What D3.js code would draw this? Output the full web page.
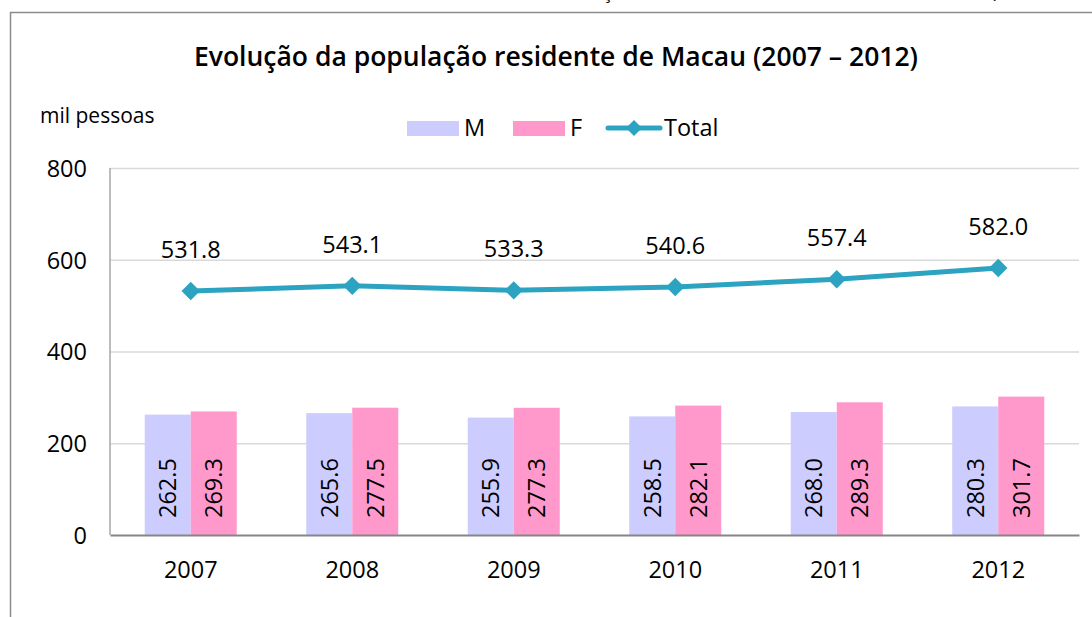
<!DOCTYPE html>
<html><head><meta charset="utf-8">
<script src="https://cdn.jsdelivr.net/npm/d3@7"></script>
<style>
html,body{margin:0;padding:0;background:#fff;}
svg{display:block;font-family:"Open Sans","Noto Sans",sans-serif;}
</style></head>
<body>
<svg id="c" width="1092" height="617"></svg>
<script>
const years = ["2007","2008","2009","2010","2011","2012"];
const male = [262.5, 265.6, 255.9, 258.5, 268.0, 280.3];
const female = [269.3, 277.5, 277.3, 282.1, 289.3, 301.7];
const total = [531.8, 543.1, 533.3, 540.6, 557.4, 582.0];
const yTicks = [0, 200, 400, 600, 800];
const seriesNames = ["M", "F", "Total"];
const title = "Evolução da população residente de Macau (2007 – 2012)";
const yUnit = "mil pessoas";

const colM = "#CCCCFF", colF = "#FF99CC", colT = "#2CA3C0";
const svg = d3.select("#c");
const FS = 23.5;

// outer chart border (partially visible)
svg.append("rect").attr("x",10.5).attr("y",12.5).attr("width",1200).attr("height",700)
  .attr("fill","none").attr("stroke","#8c8c8c").attr("stroke-width",1.5);

// cut-off text fragments at top
svg.append("text").attr("x",603).attr("y",-1).attr("font-size",18).attr("fill","#000").text("ç");
svg.append("text").attr("x",991).attr("y",-2).attr("font-size",18).attr("fill","#000").text("(");

const L = 110, R = 1079, T = 168, B = 535;
const x = d3.scaleBand().domain(years).range([L, R]).paddingInner(0).paddingOuter(0);
const y = d3.scaleLinear().domain([0, 800]).range([B, T]);
const barW = 46;

// gridlines
svg.append("g").selectAll("line").data(yTicks.filter(d=>d>0)).join("line")
  .attr("x1",L).attr("x2",R).attr("y1",d=>y(d)+0.5).attr("y2",d=>y(d)+0.5)
  .attr("stroke","#D9D9D9").attr("stroke-width",1.5);

// y axis labels
const yAxis = d3.axisLeft(y).tickValues(yTicks).tickSize(0).tickPadding(0);
const ga = svg.append("g").attr("transform",`translate(87,0)`).call(yAxis);
ga.select(".domain").remove();
ga.selectAll("text").attr("font-size",FS).attr("fill","#000").attr("font-family","'Open Sans',sans-serif").attr("dy","0.36em");

// bars
const gM = svg.append("g");
gM.selectAll("rect").data(male).join("rect")
  .attr("x",(d,i)=>x(years[i])+x.bandwidth()/2-barW).attr("width",barW)
  .attr("y",d=>y(d)).attr("height",d=>B-y(d)).attr("fill",colM);
const gF = svg.append("g");
gF.selectAll("rect").data(female).join("rect")
  .attr("x",(d,i)=>x(years[i])+x.bandwidth()/2).attr("width",barW)
  .attr("y",d=>y(d)).attr("height",d=>B-y(d)).attr("fill",colF);

// bar labels (rotated)
function barLabels(data, offset){
  svg.append("g").selectAll("text").data(data).join("text")
    .attr("transform",(d,i)=>`translate(${x(years[i])+x.bandwidth()/2+offset},${B-17}) rotate(-90)`)
    .attr("dy","0.36em").attr("font-size",FS).attr("fill","#000")
    .text(d=>d.toFixed(1));
}
barLabels(male, -barW/2);
barLabels(female, barW/2);

// axes lines
svg.append("line").attr("x1",L).attr("x2",L).attr("y1",T).attr("y2",B)
  .attr("stroke","#A6A6A6").attr("stroke-width",1.5);
const xAxis = d3.axisBottom(x).tickSize(0).tickPadding(0);
const gx = svg.append("g").attr("transform",`translate(0,${B})`).call(xAxis);
gx.select(".domain").attr("stroke","#868686").attr("stroke-width",2);
gx.selectAll("text").attr("font-size",FS).attr("fill","#000").attr("font-family","'Open Sans',sans-serif").attr("y",43).attr("dy","0");

// total line
const cx = i => x(years[i]) + x.bandwidth()/2;
const line = d3.line().x((d,i)=>cx(i)).y(d=>y(d));
svg.append("path").datum(total).attr("d",line).attr("fill","none")
  .attr("stroke",colT).attr("stroke-width",5).attr("stroke-linejoin","round");
svg.append("g").selectAll("path").data(total).join("path")
  .attr("d", d3.symbol().type(d3.symbolSquare).size(170)()).attr("fill",colT)
  .attr("transform",(d,i)=>`translate(${cx(i)},${y(d)}) rotate(45)`);
svg.append("g").selectAll("text").data(total).join("text")
  .attr("x",(d,i)=>cx(i)).attr("y",d=>y(d)-33).attr("text-anchor","middle")
  .attr("font-size",FS).attr("fill","#000").text(d=>d.toFixed(1));

// title
svg.append("text").attr("x",556).attr("y",66).attr("text-anchor","middle")
  .attr("font-size",26.5).attr("font-weight",600).attr("fill","#000").text(title);
// unit
svg.append("text").attr("x",40).attr("y",123).attr("font-size",21).attr("font-weight",400).attr("fill","#000").text(yUnit);

// legend
const lg = svg.append("g");
lg.append("rect").attr("x",407).attr("y",121).attr("width",52).attr("height",15).attr("fill",colM);
lg.append("text").attr("x",464).attr("y",136).attr("font-size",FS).text(seriesNames[0]);
lg.append("rect").attr("x",513).attr("y",121).attr("width",52).attr("height",15).attr("fill",colF);
lg.append("text").attr("x",570).attr("y",136).attr("font-size",FS).text(seriesNames[1]);
lg.append("line").attr("x1",608).attr("x2",660).attr("y1",128).attr("y2",128)
  .attr("stroke",colT).attr("stroke-width",5).attr("stroke-linecap","round");
lg.append("path").attr("d",d3.symbol().type(d3.symbolSquare).size(130)())
  .attr("transform","translate(634,128) rotate(45)").attr("fill",colT);
lg.append("text").attr("x",664).attr("y",136).attr("font-size",FS).text(seriesNames[2]);
</script>
</body></html>
